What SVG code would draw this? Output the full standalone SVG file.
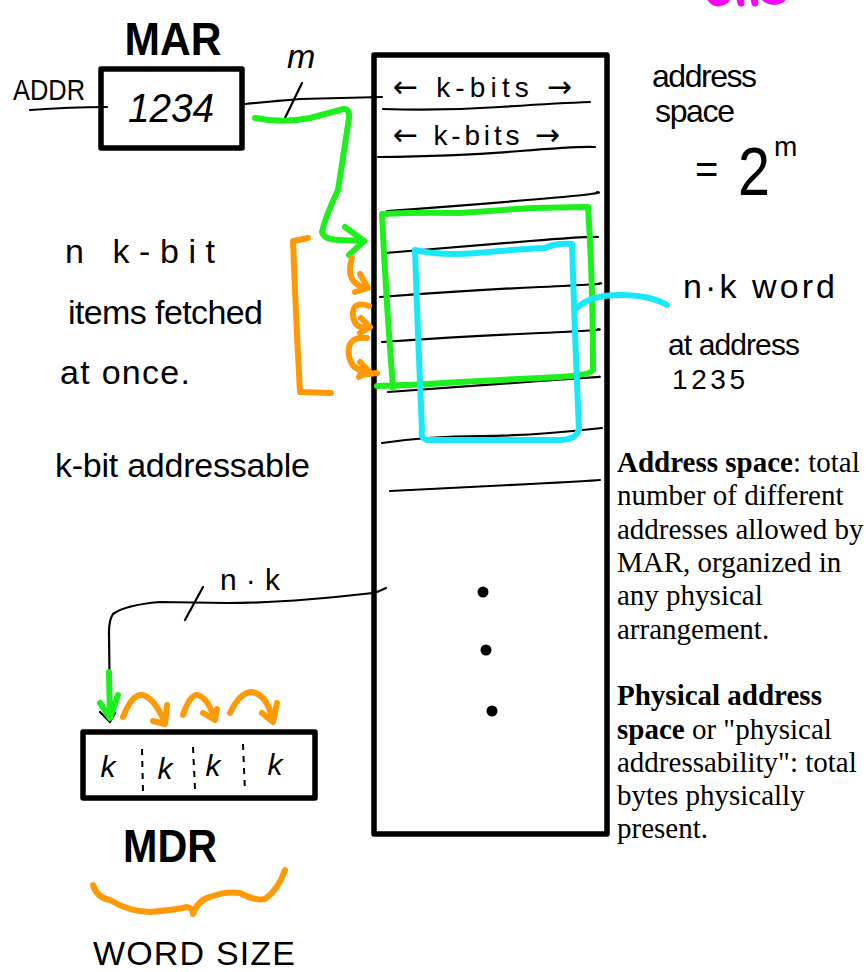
<svg xmlns="http://www.w3.org/2000/svg" width="866" height="972" viewBox="0 0 866 972">
  <style>
    .hand { font-family: "Liberation Sans", "DejaVu Sans", sans-serif; fill: #000; }
    .arrow { font-family: "DejaVu Sans", "Liberation Sans", sans-serif; }
    .bold { font-family: "Liberation Sans", "DejaVu Sans", sans-serif; font-weight: bold; fill: #000; }
    .note { font-family: "Liberation Serif", "DejaVu Serif", serif; font-size: 29px; fill: #000; }
    .ink { fill: none; stroke: #000; stroke-width: 2.2; stroke-linecap: round; stroke-linejoin: round; }
    .frame { fill: none; stroke: #000; stroke-width: 5.5; stroke-linejoin: round; }
    .green { fill: none; stroke: #1ef01e; stroke-width: 6; stroke-linecap: round; stroke-linejoin: round; }
    .cyan { fill: none; stroke: #18e8f8; stroke-width: 6; stroke-linecap: round; stroke-linejoin: round; }
    .orange { fill: none; stroke: #ff9a06; stroke-width: 6; stroke-linecap: round; stroke-linejoin: round; }
    .dash { fill: none; stroke: #000; stroke-width: 2; stroke-dasharray: 6 6; }
  </style>

  <!-- pink scribble cut off at the top edge -->
  <g id="top-scribble" fill="none" stroke="#ff00ff" stroke-width="7" stroke-linecap="round">
    <path d="M711,-1 Q716,6 726,0"/>
    <path d="M740,-1 L741,3"/>
    <path d="M754,-1 L755,3"/>
    <path d="M766,-1 Q774,4 782,-1"/>
  </g>

  <!-- MAR register -->
  <g id="mar">
    <text class="bold" x="173" y="55" font-size="46" text-anchor="middle" textLength="97" lengthAdjust="spacingAndGlyphs">MAR</text>
    <rect class="frame" x="101" y="69" width="141" height="79"/>
    <text class="hand" x="171" y="122" font-size="40" font-style="italic" text-anchor="middle" textLength="86" lengthAdjust="spacingAndGlyphs">1234</text>
  </g>

  <g id="addr-label">
    <text class="hand" x="13" y="100" font-size="30" textLength="72" lengthAdjust="spacingAndGlyphs">ADDR</text>
  </g>

  <!-- memory array -->
  <g id="memory">
    <rect class="frame" x="374" y="55" width="233" height="779"/>
    <text class="hand" x="393" y="97" font-size="28" textLength="179" lengthAdjust="spacing"><tspan class="arrow" font-size="30">←</tspan> k-bits <tspan class="arrow" font-size="30">→</tspan></text>
    <path class="ink" d="M383,109 Q440,111 500,107 T590,102"/>
    <text class="hand" x="393" y="145" font-size="28" textLength="167" lengthAdjust="spacing"><tspan class="arrow" font-size="30">←</tspan> k-bits <tspan class="arrow" font-size="30">→</tspan></text>
    <path class="ink" d="M378,157 Q460,156 520,151 T595,147"/>
    <path class="ink" d="M387,211 Q470,205 540,199 T597,192"/>
    <path class="ink" d="M385,253 Q470,246 530,241 T598,237"/>
    <path class="ink" d="M380,297 Q470,290 540,287 T600,283"/>
    <path class="ink" d="M382,342 Q470,336 540,333 T598,329"/>
    <path class="ink" d="M388,392 Q470,386 540,381 T598,377"/>
    <path class="ink" d="M382,443 Q430,436 480,436 T602,428"/>
    <path class="ink" d="M390,491 Q470,487 530,484 T600,480"/>
    <circle cx="483" cy="592" r="5.5"/>
    <circle cx="486" cy="650" r="5.5"/>
    <circle cx="492" cy="711" r="5.5"/>
  </g>

  <!-- highlighted fetch windows -->
  <g id="fetch-window">
    <path class="green" d="M382,214 Q420,212 460,213 Q500,210 533,208 L588,207 Q593,280 593,370 Q590,375 560,377 Q500,380 460,382 Q420,385 377,386 M382,214 Q386,300 393,388"/>
  </g>
  <g id="word-window">
    <path class="cyan" d="M415,250 Q440,256 477,253 Q520,249 545,248 Q555,243 572,244 Q575,340 579,430 Q575,440 560,440 Q490,440 427,440 Q420,438 422,430 Q418,340 415,250 Z"/>
  </g>

  <!-- MDR register -->
  <g id="mdr">
    <rect class="frame" x="83" y="732" width="232" height="66" stroke-width="5"/>
    <path class="dash" d="M142,749 L143,791"/>
    <path class="dash" d="M193,747 L195,789"/>
    <path class="dash" d="M243,744 L245,792"/>
    <text class="hand" x="108" y="777" font-size="30" font-style="italic" text-anchor="middle">k</text>
    <text class="hand" x="165" y="779" font-size="30" font-style="italic" text-anchor="middle">k</text>
    <text class="hand" x="213" y="776" font-size="30" font-style="italic" text-anchor="middle">k</text>
    <text class="hand" x="275" y="775" font-size="30" font-style="italic" text-anchor="middle">k</text>
    <text class="bold" x="170" y="862" font-size="46" text-anchor="middle" textLength="94" lengthAdjust="spacingAndGlyphs">MDR</text>
  </g>

  <g id="word-size">
    <path class="orange" d="M93,885 Q97,898 110,900 Q130,912 150,912 Q175,910 187,907 Q193,908 193,914 Q198,900 210,897 Q225,891 240,893 Q255,901 265,899 Q278,890 285,870"/>
    <text class="hand" x="93" y="965" font-size="34" textLength="202" lengthAdjust="spacing">WORD SIZE</text>
  </g>

  <!-- connectors -->
  <g id="connectors">
    <path class="ink" d="M30,110 Q70,107 107,107"/>
    <path class="ink" d="M245,104 Q275,101 300,99 Q340,98 382,97"/>
    <path class="ink" d="M285,118 L302,83"/>
    <path class="ink" d="M386,588 Q378,592 373,593 C330,598 280,603 227,603 L160,602 Q125,605 113,614 Q109,620 109,632 L110,720"/>
    <path class="ink" d="M185,620 L203,587"/>
    <path class="ink" d="M100,712 L110,722 L115,713"/>

    <!-- address path into the array -->
    <path class="green" d="M255,118 C270,121 290,122 310,118 L340,110 Q350,106 349,118 L338,190 Q326,215 322,232 Q324,240 340,240 L364,241"/>
    <path class="green" d="M345,227 L364,241 L349,255"/>
    <path class="green" d="M109,672 L110,718 M100,703 L110,718 L118,695"/>

    <!-- word pointer -->
    <path class="cyan" d="M577,308 Q590,295 620,295 Q650,295 667,305"/>

    <!-- item bracket and shift arrows -->
    <path class="orange" d="M308,238 Q300,240 293,241 Q296,320 300,392 L331,393"/>
    <path class="orange" d="M352,258 Q344,284 367,288 M360,274 L368,288 L355,292"/>
    <path class="orange" d="M369,306 Q352,300 353,316 Q355,330 369,327 M361,318 L370,327 L360,333"/>
    <path class="orange" d="M367,338 Q346,336 349,356 Q352,372 368,370 M360,362 L369,371 L359,377 M360,375 L377,373"/>
    <path class="orange" d="M123,717 Q132,694 142,695 Q154,697 165,723 M153,721 L165,724 L167,705"/>
    <path class="orange" d="M183,715 Q190,694 198,695 Q208,698 215,720 M203,713 L215,720 L217,709"/>
    <path class="orange" d="M230,713 Q240,692 252,692 Q268,695 273,722 M262,713 L273,722 L277,703"/>
  </g>

  <!-- annotations -->
  <g id="labels">
    <text class="hand" x="287" y="68" font-size="34" font-style="italic">m</text>
    <text class="hand" x="220" y="590" font-size="30" textLength="60" lengthAdjust="spacing">n·k</text>

    <text class="hand" x="65" y="263" font-size="34" textLength="150" lengthAdjust="spacing">n k-bit</text>
    <text class="hand" x="68" y="324" font-size="34" textLength="195" lengthAdjust="spacing">items fetched</text>
    <text class="hand" x="60" y="384" font-size="34" textLength="130" lengthAdjust="spacing">at once.</text>
    <text class="hand" x="55" y="477" font-size="34" textLength="255" lengthAdjust="spacing">k-bit addressable</text>

    <text class="hand" x="652" y="87" font-size="32" textLength="105" lengthAdjust="spacing">address</text>
    <text class="hand" x="655" y="122" font-size="32" textLength="80" lengthAdjust="spacing">space</text>
    <text class="hand" x="695" y="183" font-size="40">=</text>
    <text class="hand" x="738" y="195" font-size="68" textLength="32" lengthAdjust="spacingAndGlyphs">2</text>
    <text class="hand" x="774" y="156" font-size="28">m</text>

    <text class="hand" x="683" y="298" font-size="34" textLength="152" lengthAdjust="spacing">n·k word</text>
    <text class="hand" x="668" y="355" font-size="30" textLength="132" lengthAdjust="spacing">at address</text>
    <text class="hand" x="672" y="389" font-size="28" textLength="73" lengthAdjust="spacing">1235</text>
  </g>

  <g id="definitions">
    <text class="note" x="617" y="472"><tspan font-weight="bold">Address space</tspan>: total</text>
    <text class="note" x="617" y="505">number of different</text>
    <text class="note" x="617" y="539">addresses allowed by</text>
    <text class="note" x="617" y="572">MAR, organized in</text>
    <text class="note" x="617" y="605">any physical</text>
    <text class="note" x="617" y="639">arrangement.</text>
    <text class="note" x="617" y="705" font-weight="bold">Physical address</text>
    <text class="note" x="617" y="739"><tspan font-weight="bold">space</tspan> or "physical</text>
    <text class="note" x="617" y="772">addressability": total</text>
    <text class="note" x="617" y="805">bytes physically</text>
    <text class="note" x="617" y="838">present.</text>
  </g>
</svg>
